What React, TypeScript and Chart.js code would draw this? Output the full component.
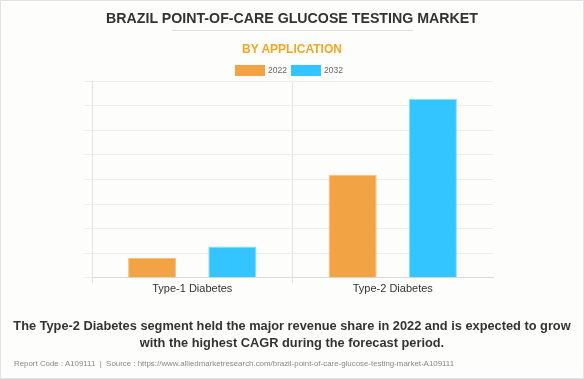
import React, { useEffect, useRef } from "react";
import { Chart, registerables } from "chart.js";

Chart.register(...registerables);

const categories = ["Type-1 Diabetes", "Type-2 Diabetes"];
const seriesLabels = ["2022", "2032"];
const values2022 = [0.8, 4.19];
const values2032 = [1.27, 7.28];
const colors = ["#f2a444", "#33c5ff"];

const title = "BRAZIL POINT-OF-CARE GLUCOSE TESTING MARKET";
const subtitle = "BY APPLICATION";
const captionLines = [
  "The Type-2 Diabetes segment held the major revenue share in 2022 and is expected to grow",
  "with the highest CAGR during the forecast period.",
];
const footer =
  "Report Code : A109111  |  Source : https://www.alliedmarketresearch.com/brazil-point-of-care-glucose-testing-market-A109111";

export default function App() {
  const ref = useRef<HTMLCanvasElement | null>(null);

  useEffect(() => {
    document.body.style.margin = "0";
    const canvas = ref.current;
    if (!canvas) return;
    const chart = new Chart(canvas, {
      type: "bar",
      data: {
        labels: categories,
        datasets: [
          {
            label: seriesLabels[0],
            data: values2022,
            backgroundColor: colors[0],
            borderColor: "#f7c07e",
            borderWidth: 1,
            categoryPercentage: 0.8,
            barPercentage: 0.6,
          },
          {
            label: seriesLabels[1],
            data: values2032,
            backgroundColor: colors[1],
            borderColor: "#8fdcff",
            borderWidth: 1,
            categoryPercentage: 0.8,
            barPercentage: 0.6,
          },
        ],
      },
      options: {
        animation: false,
        responsive: false,
        maintainAspectRatio: false,
        layout: { padding: { left: 84, right: 91, top: 81, bottom: 83 } },
        plugins: {
          legend: { display: false },
          tooltip: { enabled: false },
        },
        scales: {
          x: {
            grid: {
              color: (ctx: any) => (ctx.type !== "tick" ? "rgba(0,0,0,0)" : "#e3e3e3"),
              tickLength: 5,
              offset: true,
            },
            border: { color: "#d9d9d9" },
            ticks: {
              padding: 0,
              color: "#333",
              font: { family: "Liberation Sans, Arial", size: 11 },
            },
          },
          y: {
            min: 0,
            max: 8,
            ticks: { stepSize: 1, display: false },
            grid: { color: "#ececec", tickLength: 8 },
            border: { color: "#e3e3e3" },
          },
        },
      },
    });
    return () => chart.destroy();
  }, []);

  const font = "Liberation Sans, Arial, sans-serif";

  return (
    <div
      style={{
        position: "absolute",
        left: 0,
        top: 0,
        width: 584,
        height: 379,
        background: "#fdfdfc",
        boxSizing: "border-box",
        border: "1px solid #e2e2e2",
        fontFamily: font,
        overflow: "hidden",
      }}
    >
      <canvas
        ref={ref}
        width={584}
        height={379}
        style={{ position: "absolute", left: -1, top: -1, width: 584, height: 379 }}
      />
      <div
        style={{
          position: "absolute",
          left: 0,
          width: 582,
          top: 8,
          textAlign: "center",
          fontWeight: "bold",
          fontSize: 14.2,
          color: "#333",
          lineHeight: "18px",
        }}
      >
        {title}
      </div>
      <div
        style={{
          position: "absolute",
          left: 171,
          width: 241,
          top: 29,
          height: 1,
          background: "#dedede",
        }}
      />
      <div
        style={{
          position: "absolute",
          left: 0,
          width: 582,
          top: 40,
          textAlign: "center",
          fontWeight: "bold",
          fontSize: 12,
          color: "#f5a623",
          lineHeight: "16px",
        }}
      >
        {subtitle}
      </div>
      <div
        style={{
          position: "absolute",
          left: -3,
          width: 582,
          top: 63,
          display: "flex",
          justifyContent: "center",
          alignItems: "center",
          fontSize: 8.5,
          color: "#666",
          lineHeight: "12px",
        }}
      >
        {seriesLabels.map((s, i) => (
          <span key={s} style={{ display: "flex", alignItems: "center", marginRight: i === 0 ? 4 : 0 }}>
            <span
              style={{
                display: "inline-block",
                width: 30,
                height: 11,
                background: colors[i],
                marginRight: 3,
              }}
            />
            {s}
          </span>
        ))}
      </div>
      <div
        style={{
          position: "absolute",
          left: 0,
          width: 582,
          top: 316,
          textAlign: "center",
          fontWeight: "bold",
          fontSize: 12.8,
          color: "#333",
          lineHeight: "17px",
          whiteSpace: "nowrap",
        }}
      >
        {captionLines.map((l) => (
          <div key={l}>{l}</div>
        ))}
      </div>
      <div
        style={{
          position: "absolute",
          left: 13,
          top: 357,
          fontSize: 7.9,
          color: "#888",
          lineHeight: "11px",
          whiteSpace: "pre",
        }}
      >
        {footer}
      </div>
    </div>
  );
}
